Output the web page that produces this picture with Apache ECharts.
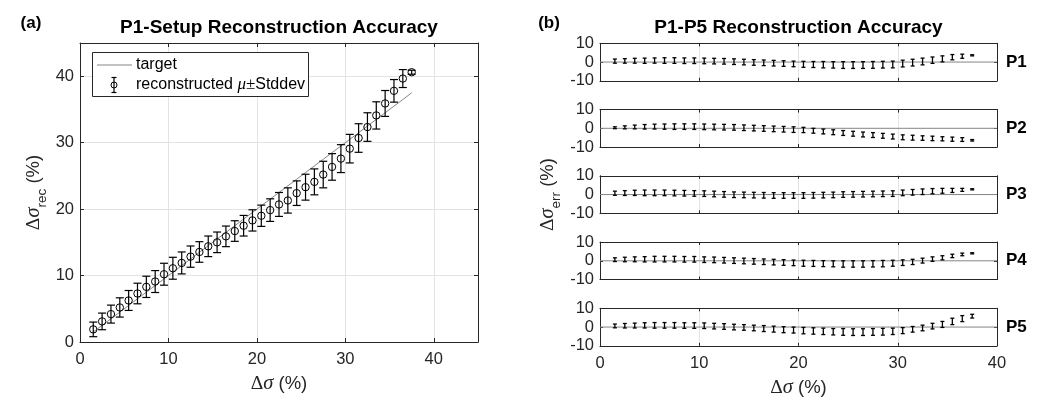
<!DOCTYPE html>
<html><head><meta charset="utf-8">
<script src="https://cdn.jsdelivr.net/npm/echarts@6/dist/echarts.min.js"></script>
<style>html,body{margin:0;padding:0;background:#fff}#c{width:1038px;height:399px}</style>
</head><body><div id="c"></div>
<script>
// ---------- data ----------
const deltaSigma = [1.5,2.5,3.5,4.5,5.5,6.5,7.5,8.5,9.5,10.5,11.5,12.5,13.5,14.5,15.5,16.5,17.5,18.5,19.5,20.5,21.5,22.5,23.5,24.5,25.5,26.5,27.5,28.5,29.5,30.5,31.5,32.5,33.5,34.5,35.5,36.5,37.5];
const targetSigma = [1.5,2.5,3.5,4.5,5.5,6.5,7.5,8.5,9.5,10.5,11.5,12.5,13.5,14.5,15.5,16.5,17.5,18.5,19.5,20.5,21.5,22.5,23.5,24.5,25.5,26.5,27.5,28.5,29.5,30.5,31.5,32.5,33.5,34.5,35.5,36.5,37.5];
const recMean = [1.9,3.1,4.2,5.2,6.25,7.3,8.3,9.1,10.2,11.1,11.9,12.85,13.55,14.4,15.0,15.9,16.7,17.5,18.3,19.0,19.85,20.7,21.3,22.4,23.3,24.1,25.2,26.35,27.6,29.1,30.7,32.35,34.1,35.9,37.8,39.65,40.6];
const recStd = [1.1,1.25,1.35,1.45,1.5,1.55,1.6,1.65,1.65,1.65,1.65,1.6,1.55,1.55,1.55,1.55,1.55,1.55,1.6,1.6,1.7,1.8,1.9,1.85,1.95,1.95,2.0,2.0,2.1,2.15,2.15,2.15,2.05,1.95,1.7,1.35,0.3];

const panelNames = ['P1','P2','P3','P4','P5'];
const errP1 = [0.5,0.6,0.7,0.7,0.8,0.8,0.8,0.7,0.7,0.6,0.5,0.4,0.2,0.0,-0.2,-0.4,-0.6,-0.8,-1.0,-1.2,-1.3,-1.4,-1.5,-1.6,-1.6,-1.6,-1.5,-1.4,-1.3,-0.8,-0.3,0.3,1.0,1.7,2.6,3.1,3.6];
const stdP1 = [1.1,1.2,1.3,1.4,1.4,1.5,1.5,1.5,1.5,1.5,1.5,1.5,1.5,1.5,1.5,1.5,1.5,1.5,1.5,1.6,1.6,1.7,1.7,1.8,1.8,1.8,1.8,1.8,1.8,1.8,1.8,1.8,1.7,1.6,1.4,1.1,0.3];
const errP2 = [0.3,0.5,0.7,0.8,0.9,0.9,0.9,0.9,0.9,0.8,0.7,0.6,0.5,0.3,0.1,-0.1,-0.3,-0.5,-0.7,-0.9,-1.3,-1.7,-2.1,-2.5,-2.9,-3.3,-3.6,-4.0,-4.4,-4.8,-5.0,-5.2,-5.4,-5.6,-5.8,-6.0,-6.4];
const stdP2 = [0.5,0.8,1.0,1.2,1.3,1.4,1.5,1.5,1.5,1.5,1.5,1.5,1.5,1.5,1.5,1.5,1.5,1.5,1.5,1.4,1.3,1.3,1.3,1.3,1.3,1.3,1.3,1.3,1.3,1.3,1.3,1.2,1.2,1.1,1.1,1.0,0.4];
const errP3 = [0.7,0.8,0.9,0.9,0.9,0.9,0.8,0.7,0.6,0.5,0.3,0.1,-0.1,-0.2,-0.3,-0.4,-0.5,-0.5,-0.5,-0.5,-0.4,-0.3,-0.2,0.0,0.1,0.2,0.3,0.4,0.5,0.9,1.2,1.5,1.8,2.0,2.2,2.5,2.8];
const stdP3 = [1.1,1.3,1.4,1.5,1.5,1.5,1.5,1.5,1.5,1.5,1.5,1.5,1.5,1.5,1.5,1.5,1.5,1.5,1.5,1.5,1.5,1.5,1.5,1.5,1.5,1.5,1.5,1.5,1.5,1.5,1.5,1.5,1.4,1.3,1.1,0.8,0.3];
const errP4 = [0.6,0.7,0.8,0.8,0.9,0.9,0.9,0.8,0.8,0.6,0.5,0.3,0.1,-0.1,-0.3,-0.5,-0.7,-0.9,-1.1,-1.3,-1.4,-1.5,-1.6,-1.7,-1.7,-1.7,-1.6,-1.5,-1.3,-1.0,-0.6,0.1,0.9,1.6,2.6,3.4,4.0];
const stdP4 = [1.0,1.2,1.3,1.4,1.5,1.5,1.5,1.5,1.5,1.5,1.5,1.5,1.5,1.5,1.5,1.5,1.5,1.5,1.5,1.6,1.6,1.6,1.6,1.7,1.7,1.7,1.7,1.7,1.6,1.5,1.4,1.3,1.2,1.1,0.9,0.7,0.3];
const errP5 = [0.6,0.7,0.8,0.9,0.9,0.9,0.9,0.8,0.8,0.7,0.5,0.3,0.0,-0.2,-0.5,-0.8,-1.1,-1.4,-1.6,-1.9,-2.1,-2.3,-2.5,-2.6,-2.7,-2.7,-2.6,-2.5,-2.3,-1.9,-1.2,-0.5,0.5,1.4,3.0,4.5,5.8];
const stdP5 = [1.0,1.2,1.3,1.4,1.5,1.5,1.5,1.5,1.5,1.5,1.5,1.5,1.5,1.5,1.5,1.6,1.6,1.6,1.6,1.7,1.7,1.7,1.7,1.8,1.8,1.8,1.8,1.8,1.7,1.6,1.5,1.5,1.5,1.6,1.7,1.6,1.0];
const panelErr = [errP1, errP2, errP3, errP4, errP5];
const panelStd = [stdP1, stdP2, stdP3, stdP4, stdP5];
const zeroRefX = [0, 40];
const zeroRefY = [0, 0];

const leftXTicks = {min:0, max:45, interval:10};
const leftYTicks = {min:0, max:45, interval:10};
const rightXTicks = {min:0, max:40, interval:10};
const rightYTicks = {min:-10, max:10, interval:10};

// ---------- style ----------
const FONT = '"Liberation Sans", Arial, Helvetica, sans-serif';
const SERIF = '"Liberation Serif", "DejaVu Serif", serif';
const AX = '#262626';
const GRIDC = '#e3e3e3';
const REFC = '#858585';

function errRender(cap, lw, r) {
  return function (params, api) {
    const x = api.value(0), m = api.value(1), s = api.value(2);
    const c = api.coord([x, m]);
    const t = api.coord([x, m + s]);
    const b = api.coord([x, m - s]);
    const w = cap / 2;
    const st = {stroke: '#000', lineWidth: lw, fill: null};
    const ch = [
      {type: 'line', shape: {x1: c[0], y1: t[1], x2: c[0], y2: b[1]}, style: st},
      {type: 'line', shape: {x1: c[0] - w, y1: t[1], x2: c[0] + w, y2: t[1]}, style: st},
      {type: 'line', shape: {x1: c[0] - w, y1: b[1], x2: c[0] + w, y2: b[1]}, style: st}
    ];
    if (r) ch.push({type: 'circle', shape: {cx: c[0], cy: c[1], r: r}, style: {stroke: '#000', lineWidth: 1, fill: 'transparent'}});
    return {type: 'group', children: ch};
  };
}

const tickLabel = {color: AX, fontFamily: FONT, fontSize: 16.5};
function mkX(gi, pos, ticks, opts) {
  return Object.assign({
    type: 'value', gridIndex: gi, position: pos, min: ticks.min, max: ticks.max, interval: ticks.interval,
    axisLine: {show: true, onZero: false, lineStyle: {color: AX, width: 1}},
    axisTick: {show: true, inside: true, length: opts.tl, lineStyle: {color: AX}},
    axisLabel: Object.assign({show: opts.label, margin: 9, showMaxLabel: opts.showMax}, tickLabel),
    splitLine: {show: opts.split, lineStyle: {color: GRIDC, width: 1}}
  }, opts.extra || {});
}
function mkY(gi, pos, ticks, opts) {
  return Object.assign({
    type: 'value', gridIndex: gi, position: pos, min: ticks.min, max: ticks.max, interval: ticks.interval,
    axisLine: {show: true, onZero: false, lineStyle: {color: AX, width: 1}},
    axisTick: {show: true, inside: true, length: opts.tl, lineStyle: {color: AX}},
    axisLabel: Object.assign({show: opts.label, margin: 6, showMaxLabel: opts.showMax}, tickLabel),
    splitLine: {show: opts.split, lineStyle: {color: GRIDC, width: 1}}
  }, opts.extra || {});
}

const nameRich = {
  n: {fontFamily: FONT, fontSize: 18.5, color: AX, lineHeight: 30},
  d: {fontFamily: SERIF, fontSize: 19.5, color: AX, lineHeight: 30},
  i: {fontFamily: SERIF, fontSize: 20.5, fontStyle: 'italic', color: AX, lineHeight: 30},
  sub: {fontFamily: FONT, fontSize: 13.5, color: AX, lineHeight: 13, verticalAlign: 'bottom'}
};
const nameRichX = {
  n: {fontFamily: FONT, fontSize: 18.5, color: AX},
  d: {fontFamily: SERIF, fontSize: 19.5, color: AX},
  i: {fontFamily: SERIF, fontSize: 20.5, fontStyle: 'italic', color: AX}
};

const grids = [{left: 80, top: 43, width: 398, height: 301}];
const panelTop0 = 43.3, panelStep = 66.25, panelH = 37.5;
for (let p = 0; p < 5; p++) grids.push({left: 600, top: panelTop0 + p * panelStep, width: 397, height: panelH});

const xAxes = [], yAxes = [], series = [];
// left
xAxes.push(mkX(0, 'bottom', leftXTicks, {tl: 4, label: true, showMax: false, split: true,
  extra: {name: '{d|Δ}{i|σ}{n| (%)}', nameLocation: 'middle', nameGap: 32, nameTextStyle: {rich: nameRichX}}}));
xAxes.push(mkX(0, 'top', leftXTicks, {tl: 4, label: false, showMax: false, split: false}));
yAxes.push(mkY(0, 'left', leftYTicks, {tl: 4, label: true, showMax: false, split: true,
  extra: {name: '{d|Δ}{i|σ}{sub|rec}{n| (%)}', nameLocation: 'middle', nameGap: 31, nameTextStyle: {rich: nameRich}}}));
yAxes.push(mkY(0, 'right', leftYTicks, {tl: 4, label: false, showMax: false, split: false}));

series.push({type: 'line', xAxisIndex: 0, yAxisIndex: 0, data: deltaSigma.map((x, i) => [x, targetSigma[i]]),
  showSymbol: false, lineStyle: {color: REFC, width: 1}, silent: true, z: 2});
series.push({type: 'custom', xAxisIndex: 0, yAxisIndex: 0, renderItem: errRender(8, 1.2, 3.7),
  data: deltaSigma.map((x, i) => [x, recMean[i], recStd[i]]), z: 3});

// right panels
for (let p = 0; p < 5; p++) {
  const gi = p + 1;
  const last = p === 4;
  const xi = xAxes.length, yi = yAxes.length;
  xAxes.push(mkX(gi, 'bottom', rightXTicks, {tl: 3, label: last, showMax: true, split: true,
    extra: last ? {name: '{d|Δ}{i|σ}{n| (%)}', nameLocation: 'middle', nameGap: 32, nameTextStyle: {rich: nameRichX}} : {}}));
  xAxes.push(mkX(gi, 'top', rightXTicks, {tl: 3, label: false, showMax: true, split: false}));
  yAxes.push(mkY(gi, 'left', rightYTicks, {tl: 3, label: true, showMax: true, split: false,
    extra: p === 2 ? {name: '{d|Δ}{i|σ}{sub|err}{n| (%)}', nameLocation: 'middle', nameGap: 37, nameTextStyle: {rich: nameRich}} : {}}));
  yAxes.push(mkY(gi, 'right', rightYTicks, {tl: 3, label: false, showMax: true, split: false}));
  series.push({type: 'line', xAxisIndex: xi, yAxisIndex: yi, data: zeroRefX.map((x, i) => [x, zeroRefY[i]]),
    showSymbol: false, lineStyle: {color: REFC, width: 1}, silent: true, z: 2});
  series.push({type: 'custom', xAxisIndex: xi, yAxisIndex: yi, renderItem: errRender(4, 1.3, 0),
    data: deltaSigma.map((x, i) => [x, panelErr[p][i], panelStd[p][i]]), z: 3});
}

const graphics = [
  {type: 'text', x: 279, y: 27.5, z: 100, style: {text: 'P1-Setup Reconstruction Accuracy', font: 'bold 19px ' + FONT, fill: '#000', align: 'center', verticalAlign: 'middle'}},
  {type: 'text', x: 798.5, y: 27.5, z: 100, style: {text: 'P1-P5 Reconstruction Accuracy', font: 'bold 19px ' + FONT, fill: '#000', align: 'center', verticalAlign: 'middle'}},
  {type: 'text', x: 31, y: 23, z: 100, style: {text: '(a)', font: 'bold 17px ' + FONT, fill: '#000', align: 'center', verticalAlign: 'middle'}},
  {type: 'text', x: 549, y: 23, z: 100, style: {text: '(b)', font: 'bold 17px ' + FONT, fill: '#000', align: 'center', verticalAlign: 'middle'}},
  // legend box
  {type: 'rect', z: 100, shape: {x: 92.5, y: 52.5, width: 216, height: 44}, style: {fill: '#fff', stroke: AX, lineWidth: 1}},
  {type: 'line', z: 101, shape: {x1: 97, y1: 65, x2: 132, y2: 65}, style: {stroke: REFC, lineWidth: 1}},
  {type: 'text', x: 136, y: 65, z: 101, style: {text: 'target', font: '16px ' + FONT, fill: '#000', align: 'left', verticalAlign: 'middle'}},
  {type: 'line', z: 101, shape: {x1: 114, y1: 77.5, x2: 114, y2: 92.5}, style: {stroke: '#000', lineWidth: 1.2}},
  {type: 'line', z: 101, shape: {x1: 111.5, y1: 77.5, x2: 116.5, y2: 77.5}, style: {stroke: '#000', lineWidth: 1.2}},
  {type: 'line', z: 101, shape: {x1: 111.5, y1: 92.5, x2: 116.5, y2: 92.5}, style: {stroke: '#000', lineWidth: 1.2}},
  {type: 'circle', z: 101, shape: {cx: 114, cy: 85, r: 3}, style: {stroke: '#000', lineWidth: 1, fill: 'transparent'}},
  {type: 'text', x: 136, y: 85, z: 101, style: {text: '{n|reconstructed }{i|μ}{s|±}{n|Stddev}', fill: '#000', align: 'left', verticalAlign: 'middle',
    rich: {n: {fontFamily: FONT, fontSize: 16, fill: '#000'}, i: {fontFamily: SERIF, fontSize: 17, fontStyle: 'italic', fill: '#000'}, s: {fontFamily: SERIF, fontSize: 17, fill: '#000'}}}}
];
for (let p = 0; p < 5; p++) {
  graphics.push({type: 'text', x: 1006, y: panelTop0 + p * panelStep + panelH / 2, z: 100,
    style: {text: panelNames[p], font: 'bold 17px ' + FONT, fill: '#000', align: 'left', verticalAlign: 'middle'}});
}

const chart = echarts.init(document.getElementById('c'));
chart.setOption({
  animation: false,
  backgroundColor: '#fff',
  grid: grids,
  xAxis: xAxes,
  yAxis: yAxes,
  series: series,
  graphic: graphics
});
</script></body></html>
